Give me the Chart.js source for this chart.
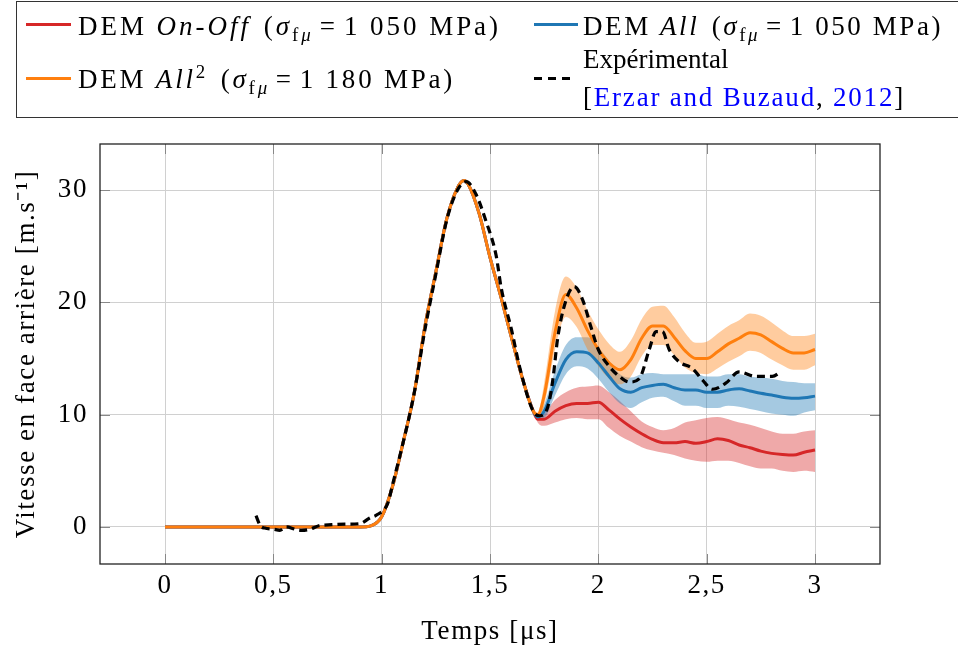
<!DOCTYPE html>
<html>
<head>
<meta charset="utf-8">
<script src="https://cdn.jsdelivr.net/npm/chart.js@4/dist/chart.umd.min.js"></script>
<style>
  body { margin: 0; overflow: hidden; background: #fff; }
  #wrap { position: relative; width: 958px; height: 653px; }
  #legend { position: absolute; left: 16px; top: 1px; width: 960px; height: 115px; border: 1px solid #333; border-right: none; }
  .item { position: absolute; font-family: 'Liberation Serif', serif; font-size: 27px; line-height: 30px; white-space: nowrap; color: #000; }
  .sym { position: absolute; height: 3px; }
  .cite { color: #0000ff; }
  .eq { margin: 0 0.22em; }
  .pa { margin-left: 0.12em; }
  sub, sup { font-size: 70%; line-height: 0; }
</style>
</head>
<body>
<div id="wrap">
  <canvas id="myChart" width="958" height="653"></canvas>
  <div id="legend"></div>
  <div class="sym" style="left:26px; top:23px; width:45px; background:#d62728"></div>
  <div class="item" data-w="423" style="left:78px; top:11px">DEM <i>On-Off</i> <span class="pa">(</span><i>σ</i><sub>f<i>μ</i></sub><span class="eq">=</span>1 050 MPa)</div>
  <div class="sym" style="left:534px; top:23px; width:44px; background:#1f77b4"></div>
  <div class="item" data-w="360" style="left:583px; top:11px">DEM <i>All</i> <span class="pa">(</span><i>σ</i><sub>f<i>μ</i></sub><span class="eq">=</span>1 050 MPa)</div>
  <div class="sym" style="left:26px; top:77px; width:45px; background:#ff7f0e"></div>
  <div class="item" data-w="377" style="left:78px; top:64px">DEM <i>All</i><sup>2</sup> <span class="pa">(</span><i>σ</i><sub>f<i>μ</i></sub><span class="eq">=</span>1 180 MPa)</div>
  <div class="sym" style="left:534px; top:77px; width:40px; background:repeating-linear-gradient(to right, #000 0 8px, transparent 8px 14px)"></div>
  <div class="item" data-w="145" style="left:583px; top:44px">Expérimental</div>
  <div class="item" data-w="322" style="left:583px; top:82px">[<span class="cite">Erzar and Buzaud</span>, <span class="cite">2012</span>]</div>
</div>
<script>
// common rise of the three simulations (µs, m/s)
const tRise = [0, 0.9, 0.95, 1.0, 1.05, 1.1, 1.15, 1.2, 1.25, 1.3, 1.35, 1.38, 1.4, 1.45, 1.5, 1.55, 1.6, 1.65]
const vRise = [0, 0, 0.1, 0.9, 3.6, 7.6, 11.9, 17.9, 22.7, 27.4, 30.2, 30.85, 30.5, 27.9, 24.0, 20.5, 16.8, 13.2]

// after the first minimum the three simulations split
const tTail = [1.7, 1.72, 1.75, 1.8, 1.85, 1.9, 1.95, 2.0, 2.05, 2.1, 2.15, 2.2, 2.25, 2.3, 2.35, 2.4, 2.45, 2.5, 2.55, 2.6, 2.65, 2.7, 2.75, 2.8, 2.85, 2.9, 2.95, 3.0]

const onOff = [10.3, 9.6, 9.6, 10.3, 10.8, 11.0, 11.0, 11.1, 10.4, 9.6, 8.9, 8.3, 7.8, 7.5, 7.5, 7.6, 7.45, 7.6, 7.85, 7.7, 7.3, 7.05, 6.75, 6.55, 6.45, 6.4, 6.65, 6.85]
const onOffHigh = [10.3, 9.8, 10.1, 11.3, 12.0, 12.4, 12.5, 12.6, 12.0, 11.2, 10.3, 9.4, 8.9, 8.6, 8.8, 9.3, 9.5, 9.7, 9.8, 9.6, 9.3, 9.1, 8.8, 8.5, 8.3, 8.3, 8.5, 8.6]
const onOffLow = [10.3, 9.3, 9.0, 9.3, 9.6, 9.7, 9.6, 9.6, 8.8, 8.1, 7.6, 7.1, 6.8, 6.6, 6.4, 6.1, 5.9, 5.8, 5.9, 5.9, 5.7, 5.4, 5.2, 5.2, 5.0, 4.9, 5.0, 4.9]

const all = [10.3, 9.8, 10.3, 12.8, 14.9, 15.6, 15.5, 14.6, 13.4, 12.3, 12.0, 12.4, 12.6, 12.7, 12.4, 12.2, 12.2, 12.0, 12.0, 12.2, 12.3, 12.1, 11.9, 11.75, 11.55, 11.45, 11.5, 11.65]
const allHigh = [10.3, 10.0, 10.9, 13.9, 16.2, 16.9, 16.9, 16.0, 14.8, 13.6, 13.3, 13.6, 13.7, 13.6, 13.6, 13.6, 13.6, 13.4, 13.4, 13.6, 13.6, 13.4, 13.3, 13.2, 13.0, 12.9, 12.8, 12.8]
const allLow = [10.3, 9.6, 9.7, 11.7, 13.6, 14.3, 14.1, 13.2, 12.0, 11.0, 10.6, 11.1, 11.5, 11.6, 11.2, 10.8, 10.8, 10.6, 10.6, 10.8, 10.7, 10.5, 10.3, 10.1, 10.0, 9.9, 10.2, 10.4]

const all2 = [10.3, 10.0, 11.7, 17.3, 20.7, 19.5, 17.5, 15.8, 14.6, 14.0, 14.9, 16.8, 17.9, 17.9, 16.9, 15.7, 15.0, 15.0, 15.6, 16.3, 16.8, 17.3, 17.1, 16.5, 15.9, 15.5, 15.5, 15.8]
const all2High = [10.3, 10.2, 12.8, 19.2, 22.3, 21.3, 19.3, 17.6, 16.3, 15.6, 16.6, 18.5, 19.6, 19.7, 18.7, 17.3, 16.4, 16.5, 17.2, 17.9, 18.4, 19.0, 18.8, 18.2, 17.5, 17.0, 17.0, 17.2]
const all2Low = [10.3, 9.8, 10.8, 15.8, 18.7, 17.8, 15.8, 14.3, 13.2, 12.7, 13.4, 15.2, 16.2, 16.2, 15.3, 14.2, 13.7, 13.6, 14.1, 14.7, 15.2, 15.7, 15.5, 14.9, 14.4, 14.0, 14.0, 14.4]

// experimental curve [Erzar and Buzaud, 2012]
const tExp = [0.42, 0.44, 0.46, 0.5, 0.53, 0.56, 0.6, 0.63, 0.67, 0.71, 0.77, 0.83, 0.9, 0.945, 0.98, 1.028, 1.052, 1.1, 1.15, 1.2, 1.25, 1.3, 1.35, 1.39, 1.436, 1.482, 1.528, 1.552, 1.6, 1.636, 1.697, 1.728, 1.767, 1.79, 1.813, 1.851, 1.889, 1.928, 1.966, 2.0, 2.05, 2.097, 2.143, 2.189, 2.235, 2.266, 2.296, 2.327, 2.373, 2.435, 2.48, 2.527, 2.588, 2.65, 2.727, 2.803, 2.841]
const vExp = [1.0, 0.1, -0.1, -0.2, -0.3, 0.0, -0.2, -0.3, -0.2, 0.1, 0.2, 0.25, 0.3, 0.8, 1.1, 2.1, 3.9, 7.6, 11.9, 17.6, 22.5, 27.3, 30.0, 30.75, 29.6, 27.2, 24.2, 21.25, 17.5, 14.3, 10.4, 9.9, 10.7, 13.1, 16.9, 20.2, 21.4, 20.2, 17.8, 15.8, 14.3, 13.4, 12.9, 13.2, 15.8, 17.4, 17.4, 15.8, 14.7, 14.1, 13.1, 12.26, 12.8, 13.8, 13.4, 13.4, 13.8]

const xTicks = [0, 0.5, 1, 1.5, 2, 2.5, 3]
const yTicks = [0, 10, 20, 30]

// stretch legend texts to the width of the original (Computer Modern is wider)
document.querySelectorAll('.item').forEach(el => {
  const extra = +el.dataset.w - el.getBoundingClientRect().width
  el.style.letterSpacing = Math.max(0, extra / el.textContent.length) + 'px'
})

const pts = (ts, vs) => ts.map((t, i) => ({ x: t, y: vs[i] }))
const full = tail => pts(tRise, vRise).concat(pts(tTail, tail))

const RED = '#d62728', BLUE = '#1f77b4', ORANGE = '#ff7f0e'
const line = (data, color, order) => ({
  data, borderColor: color, borderWidth: 3, pointRadius: 0, fill: false,
  cubicInterpolationMode: 'monotone', order,
})
const band = (data, color, fill, order) => ({
  data, borderWidth: 0, borderColor: 'transparent', backgroundColor: color, pointRadius: 0, fill,
  cubicInterpolationMode: 'monotone', order,
})

const FONT = { family: "'Liberation Serif', serif", size: 27 }

// wider letters, closer to the LaTeX look
const spacing = {
  id: 'spacing',
  beforeDraw(chart) { chart.ctx.letterSpacing = '1.6px' },
}

// full frame + inward tick marks, pgfplots style
const frame = {
  id: 'frame',
  afterDatasetsDraw(chart) {
    const { ctx, chartArea: a, scales } = chart
    ctx.save()
    ctx.strokeStyle = '#888'
    ctx.lineWidth = 1
    xTicks.forEach(v => {
      const x = Math.round(scales.x.getPixelForValue(v)) + 0.5
      ctx.beginPath()
      ctx.moveTo(x, a.top); ctx.lineTo(x, a.top + 10)
      ctx.moveTo(x, a.bottom); ctx.lineTo(x, a.bottom - 10)
      ctx.stroke()
    })
    yTicks.forEach(v => {
      const y = Math.round(scales.y.getPixelForValue(v)) + 0.5
      ctx.beginPath()
      ctx.moveTo(a.left, y); ctx.lineTo(a.left + 10, y)
      ctx.moveTo(a.right, y); ctx.lineTo(a.right - 10, y)
      ctx.stroke()
    })
    ctx.strokeStyle = '#222'
    ctx.lineWidth = 1.3
    ctx.strokeRect(a.left, a.top, a.right - a.left, a.bottom - a.top)
    ctx.restore()
  },
}

const ctx = document.getElementById('myChart').getContext('2d')
new Chart(ctx, {
  type: 'line',
  data: {
    datasets: [
      Object.assign(line(pts(tExp, vExp), '#000', 0), { borderDash: [8, 5], borderWidth: 3.2 }),
      line(full(all2), ORANGE, 1),
      line(full(all), BLUE, 2),
      line(full(onOff), RED, 3),
      band(pts(tTail, all2High), 'rgba(255,127,14,0.4)', '+1', 4),
      band(pts(tTail, all2Low), 'transparent', false, 4),
      band(pts(tTail, allHigh), 'rgba(31,119,180,0.4)', '+1', 5),
      band(pts(tTail, allLow), 'transparent', false, 5),
      band(pts(tTail, onOffHigh), 'rgba(214,39,40,0.4)', '+1', 6),
      band(pts(tTail, onOffLow), 'transparent', false, 6),
    ],
  },
  options: {
    responsive: false,
    animation: false,
    layout: { padding: { top: 144, right: 78, left: 0, bottom: 0 } },
    plugins: { legend: { display: false }, tooltip: { enabled: false } },
    scales: {
      x: {
        type: 'linear',
        min: -0.3,
        max: 3.3,
        afterBuildTicks: s => { s.ticks = xTicks.map(v => ({ value: v })) },
        afterFit: s => { s.height = 89 },
        ticks: { color: '#000', font: FONT, padding: 6, maxRotation: 0, callback: v => String(v).replace('.', ',') },
        grid: { color: '#d0d0d0', drawTicks: false },
        border: { display: false },
        title: { display: true, text: 'Temps [μs]', color: '#000', font: FONT, padding: { top: 0, bottom: 5 } },
      },
      y: {
        min: -3.3,
        max: 34.1,
        afterBuildTicks: s => { s.ticks = yTicks.map(v => ({ value: v })) },
        afterFit: s => { s.width = 100 },
        ticks: { color: '#000', font: FONT, padding: 12 },
        grid: { color: '#d0d0d0', drawTicks: false },
        border: { display: false },
        title: { display: true, text: 'Vitesse en face arrière [m.s⁻¹]', color: '#000', font: FONT, padding: { top: 11, bottom: 0 } },
      },
    },
  },
  plugins: [spacing, frame],
})
</script>
</body>
</html>
